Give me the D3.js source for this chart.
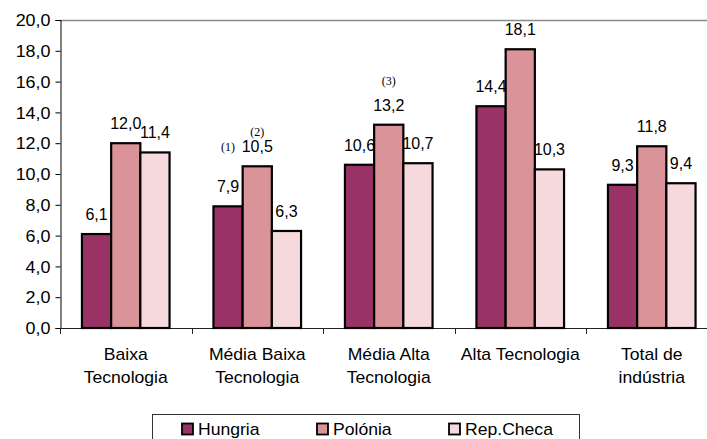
<!DOCTYPE html>
<html>
<head>
<meta charset="utf-8">
<script src="https://cdn.jsdelivr.net/npm/d3@7"></script>
<style>
  html, body { margin: 0; padding: 0; background: #fff; }
  svg { display: block; }
  text { font-family: "Liberation Sans", Arial, sans-serif; fill: #000; }
  text.note { font-family: "Liberation Serif", "Times New Roman", serif; }
</style>
</head>
<body>
<svg id="chart" width="707" height="439"></svg>
<script>
// ---- data ----
const categories = [
  ["Baixa", "Tecnologia"],
  ["Média Baixa", "Tecnologia"],
  ["Média Alta", "Tecnologia"],
  ["Alta Tecnologia"],
  ["Total de", "indústria"]
];
const seriesNames = ["Hungria", "Polónia", "Rep.Checa"];
const hungria  = [6.1, 7.9, 10.6, 14.4, 9.3];
const polonia  = [12.0, 10.5, 13.2, 18.1, 11.8];
const repCheca = [11.4, 6.3, 10.7, 10.3, 9.4];
const yTicks = [0, 2, 4, 6, 8, 10, 12, 14, 16, 18, 20];
const notes = ["(1)", "(2)", "(3)"];

const colors = ["#993366", "#da9399", "#f5d9dd"];
const seriesValues = [hungria, polonia, repCheca];

// ---- layout ----
const svg = d3.select("#chart");
const mLeft = 60, mTop = 20, mBottom = 328;
const catW = 131.5;
const mRight = mLeft + catW * categories.length;

const x = d3.scaleBand().domain(d3.range(categories.length)).range([mLeft, mRight]).paddingInner(0).paddingOuter(0);
const barW = 29.2;
const groupOff = (catW - barW * 3) / 2;
const y = d3.scaleLinear().domain([0, 20]).range([mBottom, mTop]);

const fmt = v => d3.format(".1f")(v).replace(".", ",");

// plot area top border (gray)
svg.append("line").attr("x1", mLeft).attr("x2", mRight).attr("y1", mTop + 0.5).attr("y2", mTop + 0.5)
  .attr("stroke", "#8a8a8a").attr("stroke-width", 1.5);

// y axis
const yAxis = d3.axisLeft(y).tickValues(yTicks).tickSize(5).tickPadding(5).tickFormat(fmt);
const gy = svg.append("g").attr("transform", `translate(${mLeft + 0.5},0)`).call(yAxis);
gy.attr("font-family", null);
gy.select(".domain").attr("stroke", "#000");
gy.selectAll(".tick line").attr("stroke", "#000");
gy.selectAll(".tick text").attr("font-size", 16)
  .attr("fill", "#000").attr("dy", "0.36em")
  .attr("transform", "scale(1.12,1)")
  .attr("x", -10 / 1.12);

// x axis (ticks at category boundaries)
const gx = svg.append("g");
gx.append("line").attr("x1", mLeft).attr("x2", mRight).attr("y1", mBottom + 0.5).attr("y2", mBottom + 0.5)
  .attr("stroke", "#222").attr("stroke-width", 1.2);
gx.selectAll("line.tk").data(d3.range(categories.length + 1)).join("line").attr("class", "tk")
  .attr("x1", i => Math.round(mLeft + i * x.bandwidth()) + 0.5)
  .attr("x2", i => Math.round(mLeft + i * x.bandwidth()) + 0.5)
  .attr("y1", mBottom).attr("y2", mBottom + 6).attr("stroke", "#222");

// category labels
categories.forEach((lines, i) => {
  const cx = x(i) + x.bandwidth() / 2;
  lines.forEach((t, j) => {
    svg.append("text").attr("text-anchor", "middle").attr("font-size", 16)
      .attr("transform", `translate(${cx},${360 + j * 23}) scale(1.1,1)`).text(t);
  });
});

// bars
seriesValues.forEach((vals, s) => {
  svg.append("g").selectAll("rect").data(vals).join("rect")
    .attr("x", (d, i) => x(i) + groupOff + s * barW)
    .attr("y", d => y(d))
    .attr("width", barW)
    .attr("height", d => y(0) - y(d))
    .attr("fill", colors[s])
    .attr("stroke", "#000").attr("stroke-width", 2.2);
});

// value labels
seriesValues.forEach((vals, s) => {
  svg.append("g").selectAll("text").data(vals).join("text")
    .attr("text-anchor", "middle").attr("font-size", 16)
    .attr("x", (d, i) => x(i) + groupOff + (s + 0.5) * barW)
    .attr("y", d => y(d) - 14)
    .text(fmt);
});

// footnote markers
const noteSpecs = [
  { cat: 1, s: 0, v: polonia[1], dy: -1 },
  { cat: 1, s: 1, v: polonia[1], dy: -16 },
  { cat: 2, s: 1, v: polonia[2], dy: -26 }
];
noteSpecs.forEach((n, k) => {
  svg.append("text").attr("class", "note").attr("text-anchor", "middle").attr("font-size", 12)
    .attr("x", x(n.cat) + groupOff + (n.s + 0.5) * barW)
    .attr("y", y(n.v) - 14 + n.dy)
    .text(notes[k]);
});

// legend
const lg = svg.append("g");
lg.append("rect").attr("x", 152.5).attr("y", 414.5).attr("width", 427).attr("height", 40)
  .attr("fill", "#fff").attr("stroke", "#333").attr("stroke-width", 1);
const legX = [182, 317, 449];
seriesNames.forEach((name, s) => {
  lg.append("rect").attr("x", legX[s]).attr("y", 423.5).attr("width", 11).attr("height", 11)
    .attr("fill", colors[s]).attr("stroke", "#000").attr("stroke-width", 1.8);
  lg.append("text").attr("font-size", 16)
    .attr("transform", `translate(${legX[s] + 16},435) scale(1.1,1)`).text(name);
});
</script>
</body>
</html>
